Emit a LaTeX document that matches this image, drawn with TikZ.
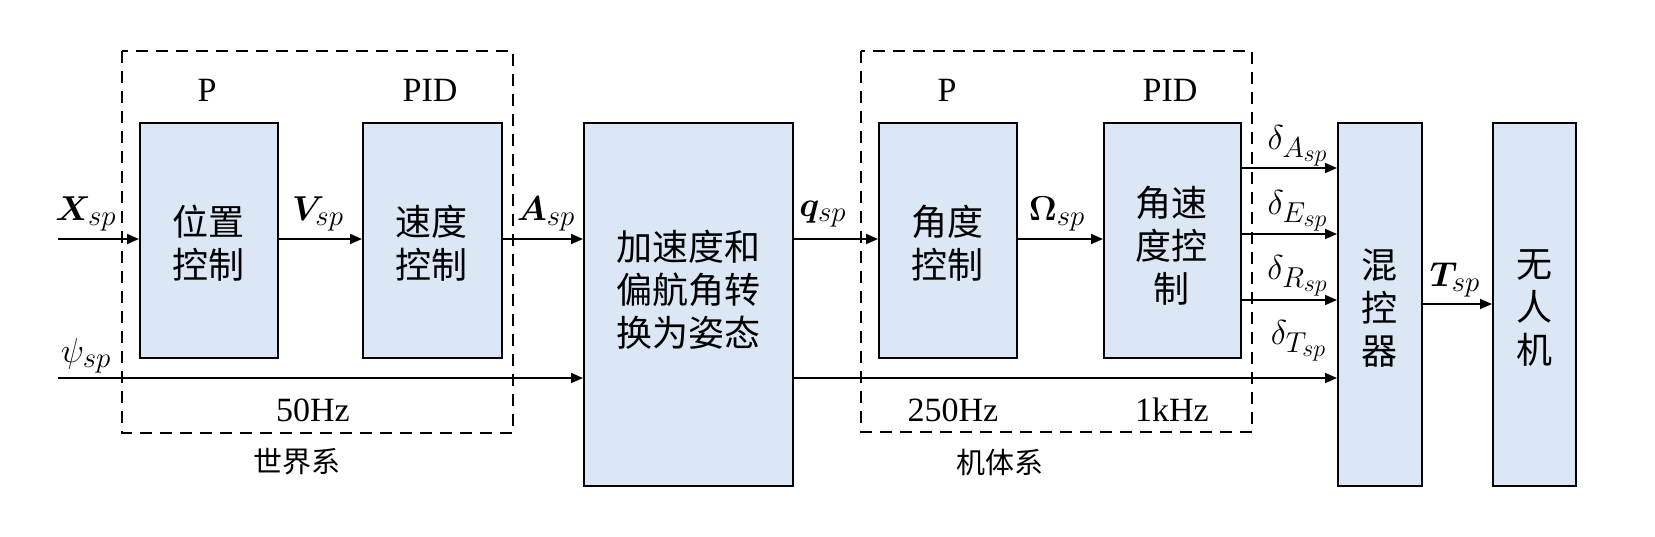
\documentclass[tikz,border=0pt]{standalone}
\usepackage{amsmath,bm}
\usepackage{fontspec}
\setmainfont{Liberation Serif}
\newfontfamily\cjk{Noto Sans CJK SC}
\DeclareMathSizes{19}{19}{14.5}{11.5}
\usetikzlibrary{arrows.meta}
\definecolor{boxfill}{RGB}{219,231,245}
\begin{document}
\begin{tikzpicture}[x=0.5pt,y=-0.5pt,
  blk/.style={draw=black,line width=0.8pt,fill=boxfill,minimum width=#1,inner sep=0pt,anchor=north west},
  cn/.style={font=\cjk\fontsize{18}{21.5}\selectfont,align=center},
  lbl/.style={font=\fontsize{17}{19}\selectfont,inner sep=0pt},
  ml/.style={font=\fontsize{19}{21}\selectfont,inner sep=0pt},
  sig/.style={line width=0.9pt,-{Triangle[length=6pt,width=5pt]}},
  dbox/.style={draw=black,line width=1.4pt,dash pattern=on 6pt off 4pt}]
\useasboundingbox (0,0) rectangle (1655,536);
% dashed frames
\draw[dbox] (122,51) rectangle (513,433);
\draw[dbox] (861,51) rectangle (1252,432);
% blocks
\node[blk=69pt,minimum height=117.5pt] (b1) at (139,122) {};
\node[blk=69.5pt,minimum height=117.5pt] (b2) at (362,122) {};
\node[blk=104.5pt,minimum height=181.5pt] (acc) at (583,122) {};
\node[blk=69pt,minimum height=117.5pt] (b3) at (878,122) {};
\node[blk=68.5pt,minimum height=117.5pt] (b4) at (1103,122) {};
\node[blk=42pt,minimum height=181.5pt] (mix) at (1337,122) {};
\node[blk=41.5pt,minimum height=181.5pt] (uav) at (1492,122) {};
% block texts
\node[cn] (t1) at (208,243) {位置\\控制};
\node[cn] (t2) at (431,243) {速度\\控制};
\node[cn] (t3) at (688,290) {加速度和\\偏航角转\\换为姿态};
\node[cn] (t4) at (947,243) {角度\\控制};
\node[cn] (t5) at (1171,246) {角速\\度控\\制};
\node[cn] (t6) at (1379,308) {混\\控\\器};
\node[cn] (t7) at (1534,308) {无\\人\\机};
% headers & footers
\node[lbl] (p1) at (207,90) {P};
\node[lbl] (pid1) at (430,90) {PID};
\node[lbl] (p2) at (947,90) {P};
\node[lbl] (pid2) at (1170,90) {PID};
\node[lbl] (hz1) at (313,410) {50Hz};
\node[lbl] (hz2) at (953,410) {250Hz};
\node[lbl] (hz3) at (1172,410) {1kHz};
\node[cn,font=\cjk\fontsize{14.5}{16}\selectfont] (w) at (297,462) {世界系};
\node[cn,font=\cjk\fontsize{14.5}{16}\selectfont] (j) at (1000,462) {机体系};
% input coordinates
\coordinate (xin) at (58,239);
\coordinate (psin) at (58,378);
% connectors
\draw[sig] (xin) -- (b1.west |- xin);
\draw[sig] (b1.east |- xin) -- (b2.west |- xin);
\draw[sig] (b2.east |- xin) -- (acc.west |- xin);
\draw[sig] (acc.east |- xin) -- (b3.west |- xin);
\draw[sig] (b3.east |- xin) -- (b4.west |- xin);
\draw[sig] (psin) -- (acc.west |- psin);
\draw[sig] (acc.east |- psin) -- (mix.west |- psin);
\coordinate (dA) at (1240,168);
\coordinate (dE) at (1240,234);
\coordinate (dR) at (1240,300);
\coordinate (tq) at (1421,304);
\draw[sig] (b4.east |- dA) -- (mix.west |- dA);
\draw[sig] (b4.east |- dE) -- (mix.west |- dE);
\draw[sig] (b4.east |- dR) -- (mix.west |- dR);
\draw[sig] (mix.east |- tq) -- (uav.west |- tq);
% signal labels
\node[ml] (lx) at (86,214) {$\bm{X}_{sp}$};
\node[ml] (lv) at (318,214) {$\bm{V}_{sp}$};
\node[ml] (la) at (546,214) {$\bm{A}_{sp}$};
\node[ml] (lq) at (823,214) {$\bm{q}_{sp}$};
\node[ml] (lo) at (1057,214) {$\bm{\Omega}_{sp}$};
\node[ml] (lpsi) at (86,356) {$\psi_{sp}$};
\node[ml] (lt) at (1455,280) {$\bm{T}_{sp}$};
\node[ml] (lda) at (1298,146) {$\delta_{A_{sp}}$};
\node[ml] (lde) at (1298,211) {$\delta_{E_{sp}}$};
\node[ml] (ldr) at (1298,276) {$\delta_{R_{sp}}$};
\node[ml] (ldt) at (1299,341) {$\delta_{T_{sp}}$};
\end{tikzpicture}
\end{document}
